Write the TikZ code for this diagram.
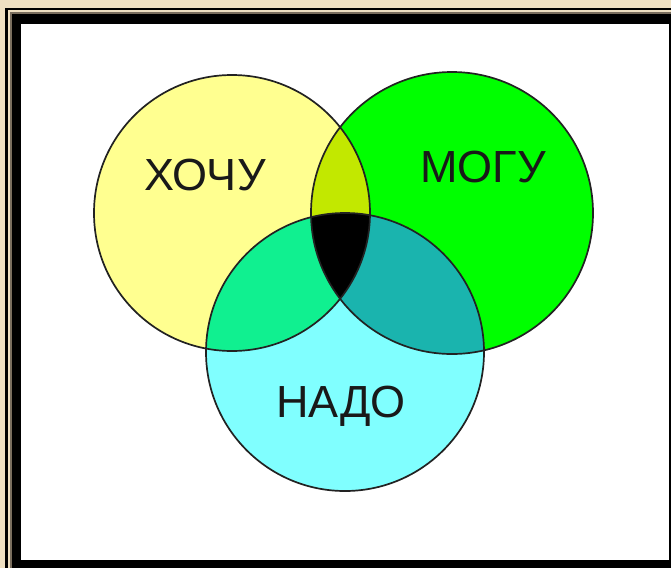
\documentclass[tikz,border=0pt]{standalone}
\usepackage{fontspec}
\setmainfont{Liberation Sans}
\definecolor{bgbeige}{HTML}{EFE0C2}
\definecolor{framegray}{HTML}{7A6E5E}
\definecolor{cyell}{HTML}{FFFF90}
\definecolor{cgreen}{HTML}{00FF00}
\definecolor{ccyan}{HTML}{80FFFF}
\definecolor{cyg}{HTML}{C2E800}
\definecolor{cyc}{HTML}{10F090}
\definecolor{cgc}{HTML}{1AB4AE}
\definecolor{outline}{HTML}{222222}
\tikzset{
  label text/.style={font=\fontsize{45}{45}\selectfont, text=black!90, anchor=base, inner sep=0pt},
  ring/.style={draw=outline, line width=1.7pt}
}
\begin{document}
\begin{tikzpicture}[x=1pt,y=-1pt]
\useasboundingbox (0,0) rectangle (671,568);
% frame
\fill[bgbeige] (0,0) rectangle (671,568);
\fill[black] (5,8) rectangle (671,568);
\fill[bgbeige] (8,10) rectangle (671,568);
\fill[framegray] (10,12) rectangle (671,568);
\fill[black] (12,14) rectangle (671,568);
\fill[white] (21,24) rectangle (669,560);
% circles
\coordinate (Y) at (232,213);
\coordinate (G) at (452,213);
\coordinate (C) at (345,352);
\fill[cyell] (Y) circle[radius=138pt];
\fill[cgreen] (G) circle[radius=141pt];
\fill[ccyan] (C) circle[radius=139pt];
\begin{scope}
  \clip (Y) circle[radius=138pt];
  \fill[cyg] (G) circle[radius=141pt];
  \fill[cyc] (C) circle[radius=139pt];
\end{scope}
\begin{scope}
  \clip (G) circle[radius=141pt];
  \fill[cgc] (C) circle[radius=139pt];
  \clip (Y) circle[radius=138pt];
  \fill[black] (C) circle[radius=139pt];
\end{scope}
\draw[ring] (Y) circle[radius=138pt];
\draw[ring] (G) circle[radius=141pt];
\draw[ring] (C) circle[radius=139pt];
% labels
\node[label text] (want) at (205,190) {ХОЧУ};
\node[label text] (can) at (483,182) {МОГУ};
\node[label text] (need) at (341,417) {НАДО};
\end{tikzpicture}
\end{document}
